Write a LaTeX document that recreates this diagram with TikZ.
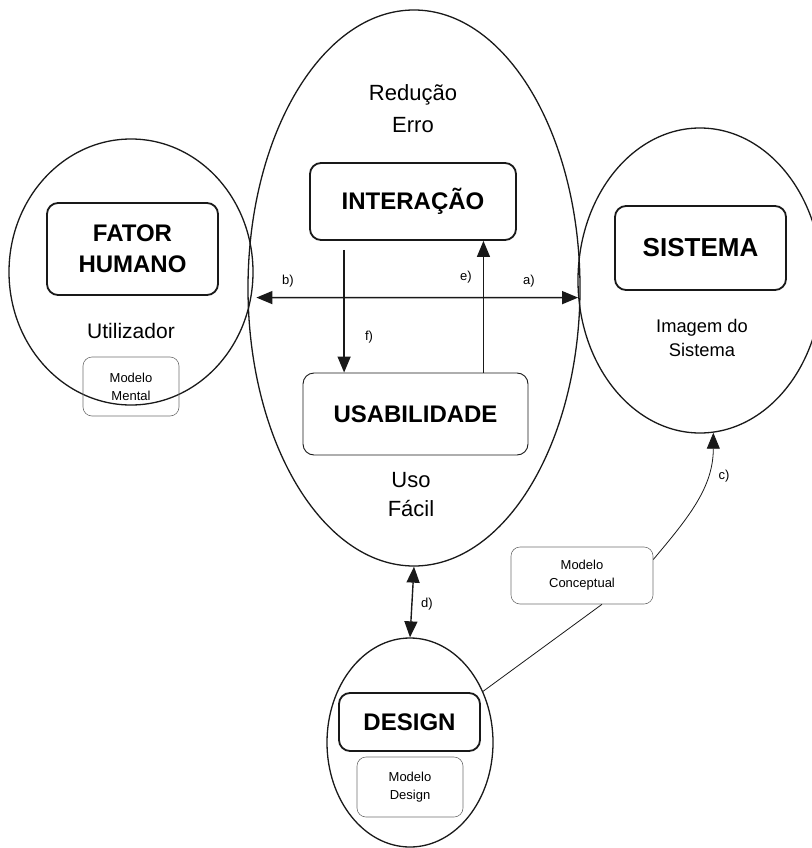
\documentclass[tikz,border=0pt]{standalone}
\usepackage{fontspec}
\setmainfont{Liberation Sans}
\usetikzlibrary{arrows.meta, shapes.geometric}
\definecolor{inkblack}{RGB}{25,25,25}
\definecolor{boxgray}{RGB}{110,110,110}
\tikzset{
  zone/.style={ellipse, draw=inkblack, line width=1.3pt, inner sep=0pt},
  mainbox/.style={rectangle, rounded corners=11pt, draw=inkblack,
                  line width=1.8pt, align=center,
                  font=\fontsize{24}{31}\selectfont\bfseries},
  subbox/.style={rectangle, rounded corners=9pt, draw=boxgray,
                 line width=0.6pt, align=center,
                 font=\fontsize{13}{18}\selectfont},
  lbl/.style={align=center, font=\fontsize{22}{32}\selectfont},
  tag/.style={font=\fontsize{13}{15}\selectfont},
  arr/.style={-{Triangle[length=16pt,width=13pt]}, line width=1.4pt,
              draw=inkblack},
  dbl/.style={{Triangle[length=16pt,width=13pt]}-{Triangle[length=16pt,width=13pt]},
              line width=1.4pt, draw=inkblack},
}

\begin{document}
\begin{tikzpicture}[x=1pt, y=-1pt]
  \useasboundingbox (0,0) rectangle (811,848);

  % the four zones
  \node[zone, minimum width=244pt, minimum height=266pt] (humano) at (131,272) {};
  \node[zone, minimum width=332pt, minimum height=556pt] (meio) at (414,288) {};
  \node[zone, minimum width=244pt, minimum height=305pt] (sistema) at (700,280.5) {};
  \node[zone, minimum width=166pt, minimum height=209pt] (design) at (410,742.5) {};

  % left zone
  \node[mainbox, minimum width=171pt, minimum height=92pt] (humanobox) at (132.5,249) {FATOR\\HUMANO};
  \node[lbl, font=\fontsize{21}{25}\selectfont] (utilizador) at (131,331) {Utilizador};
  \node[subbox, minimum width=96pt, minimum height=59pt] (mental) at (131,386.5) {Modelo\\Mental};

  % middle zone
  \node[lbl, font=\fontsize{22}{32}\selectfont] (reducao) at (413,109) {Redução\\Erro};
  \node[mainbox, minimum width=206pt, minimum height=77pt] (interacao) at (413,201.5) {INTERAÇÃO};
  \node[mainbox, line width=0.9pt, minimum width=225pt, minimum height=82pt] (usab) at (415.5,414) {USABILIDADE};
  \node[lbl, font=\fontsize{22}{29}\selectfont] (uso) at (411,495) {Uso\\Fácil};

  % right zone
  \node[mainbox, font=\fontsize{26}{31}\selectfont\bfseries, minimum width=171pt, minimum height=84pt] (sistemabox) at (700.5,248) {SISTEMA};
  \node[lbl, font=\fontsize{18.3}{24}\selectfont] (imagem) at (702,338) {Imagem do\\Sistema};

  % bottom zone
  \node[mainbox, minimum width=141pt, minimum height=58pt] (designbox) at (409.5,722) {DESIGN};
  \node[subbox, minimum width=106pt, minimum height=60pt] (mdesign) at (410,787) {Modelo\\Design};

  \node[subbox, minimum width=142pt, minimum height=57pt] (conceptual) at (582,575.5) {Modelo\\Conceptual};

  % connectors
  \draw[dbl] ([xshift=5pt]humano.-12) -- (sistema.188);
  \node[tag] (ta) at (529,281) {a)};
  \node[tag] (tb) at (288,281) {b)};

  \draw[arr] ([xshift=35pt,yshift=-9pt]interacao.south west)
          -- ([xshift=35pt]interacao.south west |- usab.north);
  \node[tag] (tf) at (369,337) {f)};

  \draw[arr] ([xshift=-45pt]usab.north east)
          -- ([xshift=-45pt]usab.north east |- interacao.south);
  \node[tag] (te) at (466,277) {e)};

  \draw[dbl] (meio.south) -- (design.north);
  \node[tag] (td) at (427,604) {d)};

  \draw[line width=0.8pt, inkblack] (design.35) -- ([xshift=20pt]conceptual.south);
  \draw[arr, line width=0.8pt] ([yshift=16pt]conceptual.east) to[out=50, in=-90] (sistema.-85);
  \node[tag] (tc) at (724,476) {c)};
\end{tikzpicture}
\end{document}
